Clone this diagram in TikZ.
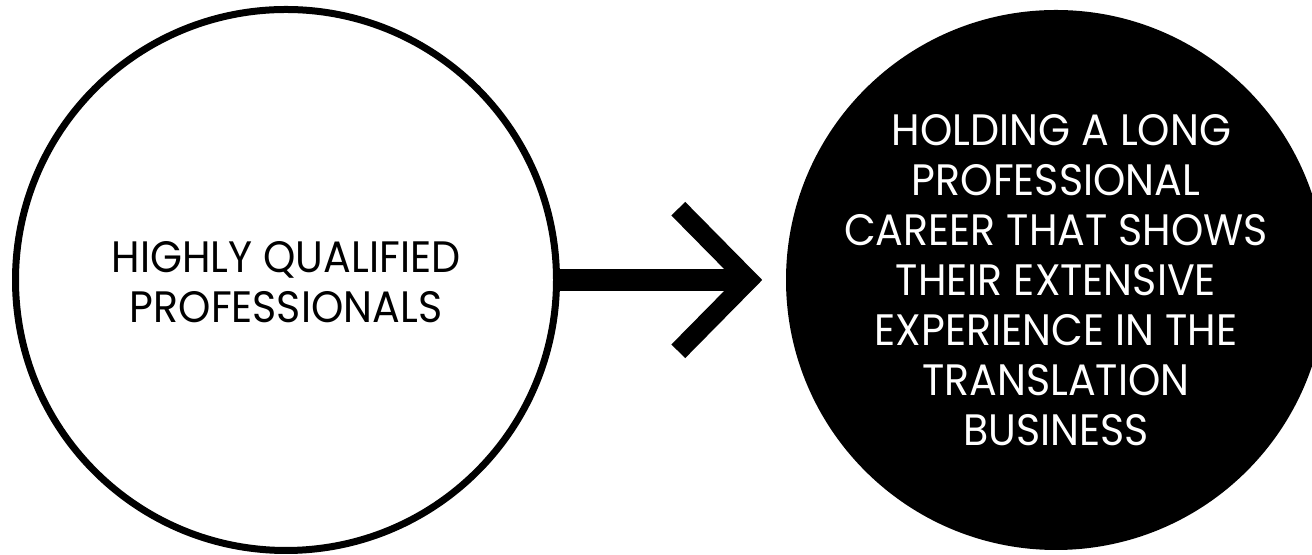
\documentclass[tikz,border=0pt]{standalone}
\usepackage{fontspec}
\setmainfont[FakeStretch=0.935]{Poppins}
\usetikzlibrary{positioning}

\begin{document}
\begin{tikzpicture}[x=0.5pt, y=0.5pt,
    ring/.style={circle, draw, line width=3.5pt, minimum size=270.5pt, inner sep=0pt},
    disc/.style={circle, fill=black, minimum size=270pt, inner sep=0pt},
    caption/.style={align=center, font=\fontsize{22}{25}\selectfont}]
    \useasboundingbox (0,0) rectangle (1312,555);
    \clip (0,0) rectangle (1312,555);

    % Circles
    \node[ring] (quali) at (286,275) {};
    \node[disc] (career) at (1056,275) {};

    % Texts
    \node[caption, yshift=-1pt] (qualitxt) at (quali) {HIGHLY QUALIFIED\\PROFESSIONALS};
    \node[caption, text=white] (careertxt) at (career) {\hspace*{0.25em}HOLDING A LONG\\PROFESSIONAL\\CAREER THAT SHOWS\\THEIR EXTENSIVE\\EXPERIENCE IN THE\\TRANSLATION\\BUSINESS};

    % Arrow
    \coordinate[left=18.5pt of career.west] (tip);
    \draw[line width=11pt] (quali.east) -- (tip);
    \draw[line width=9.7pt, miter limit=10] ([shift={(-70.3,71.3)}]tip) -- (tip) -- ([shift={(-70.3,-71.3)}]tip);
\end{tikzpicture}
\end{document}
